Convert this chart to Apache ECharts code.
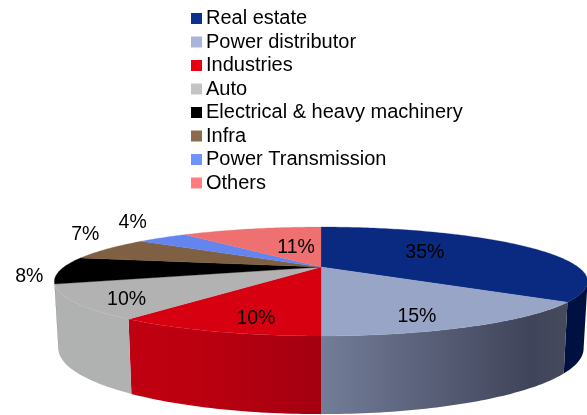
<!DOCTYPE html>
<html>
<head>
<meta charset="utf-8">
<style>html,body{margin:0;padding:0;background:#fff}#chart{width:587px;height:415px}</style>
<script src="https://cdn.jsdelivr.net/npm/echarts@6/dist/echarts.min.js"></script>
</head>
<body>
<div id="chart"></div>
<script>
// Data
var categories = ['Real estate','Power distributor','Industries','Auto','Electrical & heavy machinery','Infra','Power Transmission','Others'];
var shares = [35,15,10,10,8,7,4,11];

// Styles
var legendColors = ['#0B318F','#A9B4D8','#E60012','#C4C4C4','#000000','#8B6B4E','#6E93FF','#FF7C80'];
var topColors = ['#0A2A82','#98A5C6','#D60010','#B2B2B2','#000000','#7F6042','#6484EE','#EE7070'];
var sideStops = [
  [[0,'#001040'],[1,'#001040']],
  [[0,'#737D98'],[0.85,'#40445A'],[1,'#454A5C']],
  [[0,'#C00010'],[0.35,'#BC0010'],[1,'#A30010']],
  [[0,'#B0B2B2'],[1,'#B0B2B2']],
  [[0,'#000000'],[1,'#000000']],
  [[0,'#5a4530'],[1,'#5a4530']],
  [[0,'#4a63b0'],[1,'#4a63b0']],
  [[0,'#b05050'],[1,'#b05050']]
];
// Label placement relative to each slice's mid-radius point
var labelNudge = [[-44,0],[-2,12],[2.5,11],[-31,9],[-110,7],[-82,-19],[-72,-22.5],[27,9]];

// Perspective disc layout
var cx = 321, topY = 267, bottomY = 331;
var radiusX = 257, topRadiusY = 50.6, bottomScale = 0.985, bottomRadiusY = 61, persp = 0.266;
var silhouette = Math.acos(-persp); // angle from the back where the rim turns away

var total = shares.reduce(function(a,b){return a+b;},0);
function startAngle(i){
  var s = 0; for (var j=0;j<i;j++) s += shares[j];
  return s/total*2*Math.PI;
}
function proj(theta, rho, bottom){
  var u = rho*Math.sin(theta), v = -rho*Math.cos(theta), w = 1-persp*v;
  return bottom
    ? [cx+bottomScale*radiusX*u/w, bottomY+bottomRadiusY*v/w]
    : [cx+radiusX*u/w, topY+topRadiusY*v/w];
}
function arc(a,b,bottom){
  var n = Math.max(2,Math.ceil(Math.abs(b-a)/(Math.PI/180))), pts=[];
  for (var i=0;i<=n;i++) pts.push(proj(a+(b-a)*i/n,1,bottom));
  return pts;
}
function makeRender(idx){
  return function(params, api){
    var val = api.value(0);
    var a = startAngle(idx), b = a+val/total*2*Math.PI, children = [];
    var lo = Math.max(a,silhouette), hi = Math.min(b,2*Math.PI-silhouette);
    if (hi>lo){
      var poly = arc(lo,hi,false).concat(arc(lo,hi,true).reverse());
      var xs = poly.map(function(p){return p[0];});
      var stops = sideStops[idx].map(function(s){return {offset:s[0],color:s[1]};});
      children.push({type:'polygon',z2:1,shape:{points:poly},style:{
        fill:new echarts.graphic.LinearGradient(Math.min.apply(null,xs),0,Math.max.apply(null,xs),0,stops,true)}});
    }
    children.push({type:'polygon',z2:2,shape:{points:[[cx,topY]].concat(arc(a,b,false))},
      style:{fill:topColors[idx],stroke:topColors[idx],lineWidth:0.3}});
    var mid = proj((a+b)/2,0.7,false), nudge = labelNudge[idx];
    children.push({type:'text',z2:3,style:{x:mid[0]+nudge[0],y:mid[1]+nudge[1],text:val+'%',
      fill:'#000',font:'19.5px "Liberation Sans", Arial, sans-serif',align:'center',verticalAlign:'middle'}});
    return {type:'group',children:children};
  };
}
var series = categories.map(function(name,i){
  return {type:'custom',name:name,coordinateSystem:'none',silent:true,
    itemStyle:{color:legendColors[i]},data:[[shares[i]]],renderItem:makeRender(i)};
});
var chart = echarts.init(document.getElementById('chart'),null,{renderer:'canvas'});
chart.setOption({
  animation:false,
  backgroundColor:'#fff',
  legend:{orient:'vertical',left:191,top:8.5,padding:0,itemWidth:11,itemHeight:11,itemGap:3.5,
    selectedMode:false,icon:'rect',data:categories,
    textStyle:{color:'#000',fontSize:20,lineHeight:20,fontFamily:'"Liberation Sans", Arial, sans-serif',padding:[0,0,0,-1]}},
  series:series
});
</script>
</body>
</html>
